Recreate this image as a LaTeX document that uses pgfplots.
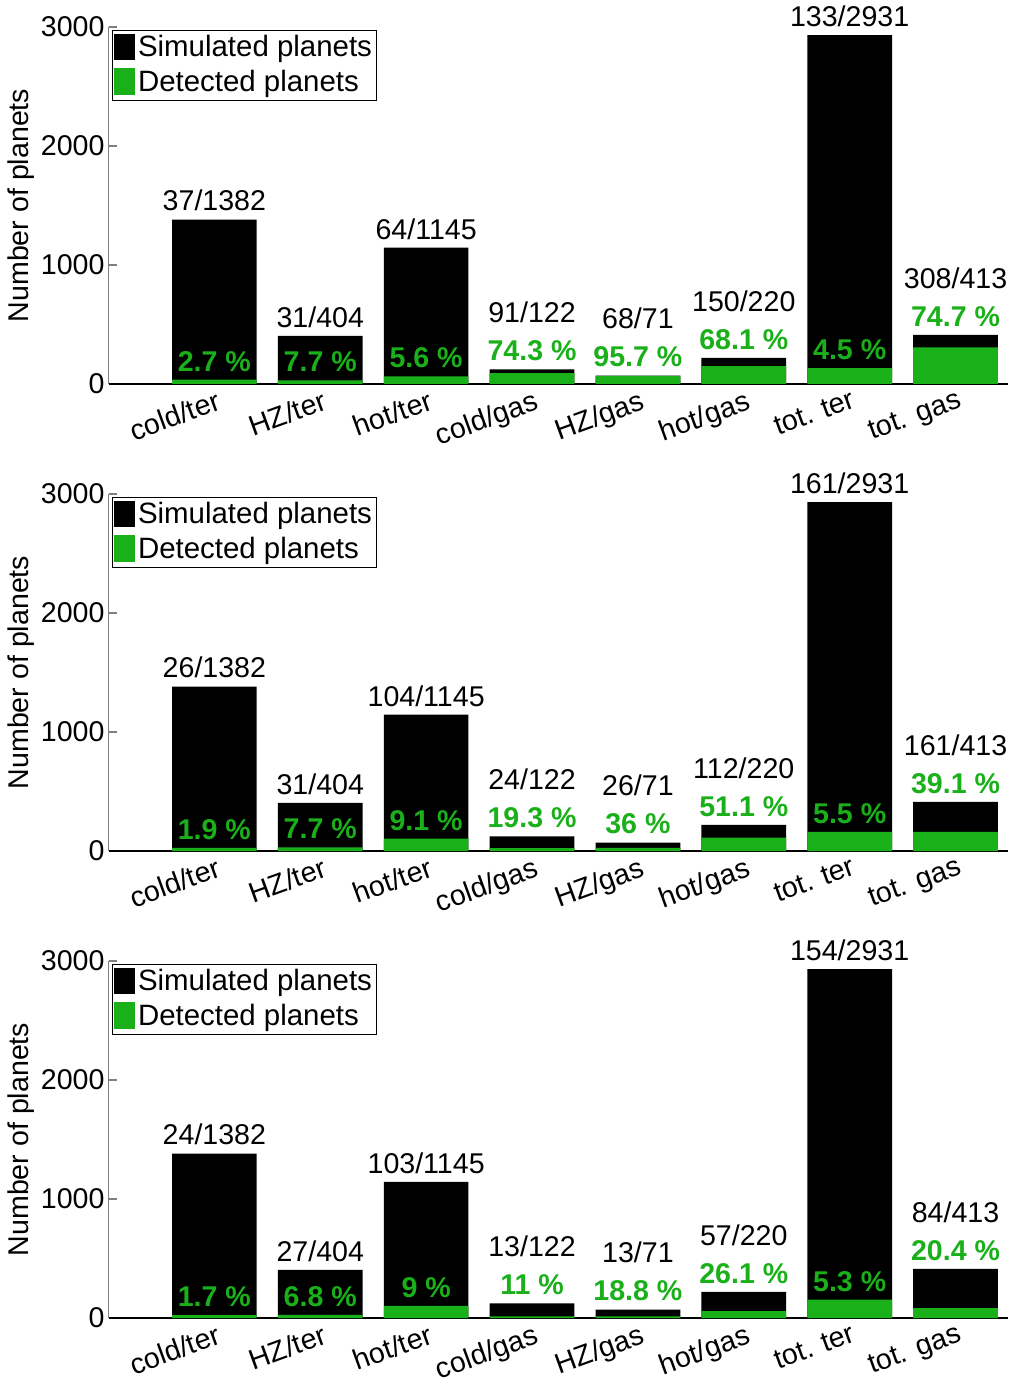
\documentclass[border=0pt]{standalone}
\usepackage{fontspec}
\setmainfont{Liberation Sans}
\usepackage{pgfplots}
\usepackage{pgfplotstable}
\pgfplotsset{compat=1.18}
\definecolor{detgreen}{RGB}{26,176,26}

\pgfplotstableread{
x sim det labY pctY lab pct
1 1382 37 1382 37 37/1382 2.7
2 404 31 404 31 31/404 7.7
3 1145 64 1145 64 64/1145 5.6
4 122 91 442 122 91/122 74.3
5 71 68 391 71 68/71 95.7
6 220 150 540 220 150/220 68.1
7 2931 133 2931 133 133/2931 4.5
8 413 308 733 413 308/413 74.7
}\tabA
\pgfplotstableread{
x sim det labY pctY lab pct
1 1382 26 1382 26 26/1382 1.9
2 404 31 404 31 31/404 7.7
3 1145 104 1145 104 104/1145 9.1
4 122 24 442 122 24/122 19.3
5 71 26 391 71 26/71 36
6 220 112 540 220 112/220 51.1
7 2931 161 2931 161 161/2931 5.5
8 413 161 733 413 161/413 39.1
}\tabB
\pgfplotstableread{
x sim det labY pctY lab pct
1 1382 24 1382 24 24/1382 1.7
2 404 27 404 27 27/404 6.8
3 1145 103 1145 103 103/1145 9
4 122 13 442 122 13/122 11
5 71 13 391 71 13/71 18.8
6 220 57 540 220 57/220 26.1
7 2931 154 2931 154 154/2931 5.3
8 413 84 733 413 84/413 20.4
}\tabC

\pgfplotsset{
  panel/.style={
    scale only axis, width=315pt, height=124.95pt,
    xmin=0, xmax=8.5, ymin=0, ymax=3000,
    axis lines=left, axis line style={-},
    x axis line style={black}, y axis line style={gray},
    xtick={1,2,3,4,5,6,7,8},
    xticklabels={cold/ter,HZ/ter,hot/ter,cold/gas,HZ/gas,hot/gas,tot. ter,tot. gas},
    x tick style={draw=none},
    ytick={0,1000,2000,3000},
    y tick style={gray, line width=0.4pt},
    major tick length=3pt, tick align=inside,
    yticklabel style={inner xsep=1.2pt},
    /pgf/number format/1000 sep={},
    /pgf/number format/assume math mode=true,
    xticklabel style={xshift=0.4pt, yshift=-1.7pt, rotate=20, anchor=north east, inner sep=0pt},
    ylabel={Number of planets},
    ylabel style={at={(axis description cs:-0.0972,0.5)}, anchor=center},
    legend style={at={(axis description cs:0.0036,0.9916)}, anchor=north west,
      draw=black, line width=0.5pt, inner xsep=0.5pt, inner ysep=0pt,
      font=\fontsize{10.3}{12}\selectfont,
      nodes={inner xsep=1.1pt, inner ysep=1.6pt},
      legend cell align=left},
    legend image code/.code={\fill[#1] (0pt,-4.26pt) rectangle (7.35pt,5.05pt);},
    clip=false,
  },
  lab/.style={draw=none, mark=none, forget plot, nodes near coords,
    point meta=explicit symbolic,
    every node near coord/.append style={anchor=base, inner sep=0pt, yshift=3pt, text=black}},
  pctl/.style={draw=none, mark=none, forget plot,
    nodes near coords={\textbf{\pgfplotspointmeta~\%}},
    point meta=explicit symbolic,
    every node near coord/.append style={anchor=base, inner sep=0pt, yshift=3pt, text=detgreen}},
}

\newcommand{\panel}[2]{%
\begin{axis}[panel, at={(0pt,#2)}, anchor=south west]
\addplot[ybar, bar width=0.8, bar shift=0pt, fill=black, draw=none] table[x=x,y=sim]{#1};
\addlegendentry{Simulated planets}
\addplot[ybar, bar width=0.8, bar shift=0pt, fill=detgreen, draw=none] table[x=x,y=det]{#1};
\addlegendentry{Detected planets}
\addplot[lab] table[x=x,y=labY,meta=lab]{#1};
\addplot[pctl] table[x=x,y=pctY,meta=pct]{#1};
\end{axis}}

\begin{document}
\begin{tikzpicture}
\panel{\tabA}{0pt}
\panel{\tabB}{-163.45pt}
\panel{\tabC}{-326.9pt}
\pgfresetboundingbox
\path[use as bounding box] (-37.975pt,-348.95pt) rectangle (315.175pt,134.4pt);
\end{tikzpicture}
\end{document}
